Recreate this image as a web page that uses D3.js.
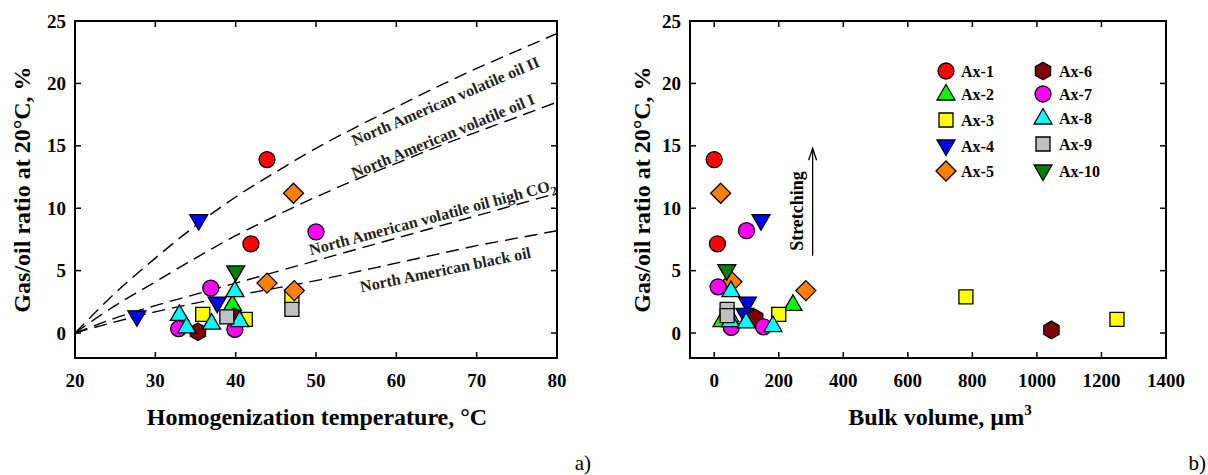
<!DOCTYPE html>
<html><head><meta charset="utf-8">
<script src="https://cdn.jsdelivr.net/npm/d3@7"></script>
<style>
body{margin:0;background:#fff}
svg{display:block}
text{font-family:"Liberation Serif","Times New Roman",serif;fill:#000}
</style>
</head><body>
<svg id="c" width="1208" height="475"></svg>
<script>
// ---------- data ----------
const seriesNames  = ["Ax-1","Ax-2","Ax-3","Ax-4","Ax-5","Ax-6","Ax-7","Ax-8","Ax-9","Ax-10"];
const seriesColors = ["#ff0000","#00ff00","#ffff00","#0000ff","#ff8000","#800000","#ff00ff","#00ffff","#c0c0c0","#008000"];
const seriesShapes = ["circle","triUp","square","triDown","diamond","hexagon","circle","triUp","square","triDown"];

// [series index, homogenization temperature °C, gas/oil ratio %]
const tempData = [
  [0,43.9,13.9],[0,41.9,7.15],
  [1,39.6,2.3],
  [2,35.9,1.5],[2,41.2,1.1],[2,47.0,2.9],
  [3,27.7,1.3],[3,35.4,9.0],[3,37.7,2.4],
  [4,47.2,11.2],[4,43.9,4.0],[4,47.3,3.4],
  [5,35.3,0.1],[5,39.8,1.3],
  [6,32.9,0.35],[6,36.9,3.6],[6,39.9,0.3],[6,50.0,8.1],
  [7,33.0,1.5],[7,33.9,0.5],[7,37.0,0.8],[7,39.9,3.4],[7,40.5,1.0],
  [8,38.9,1.3],[8,47.0,1.9],
  [9,40.0,4.9]
];
// [series index, bulk volume µm3, gas/oil ratio %]
const volumeData = [
  [0,0,13.9],[0,10,7.15],
  [1,24,1.0],[1,244,2.3],
  [2,200,1.5],[2,780,2.9],[2,1248,1.1],
  [3,145,9.0],[3,103,2.4],[3,95,1.5],
  [4,20,11.2],[4,55,4.1],[4,284,3.4],
  [5,127,1.2],[5,1045,0.25],
  [6,12,3.7],[6,100,8.2],[6,53,0.45],[6,153,0.5],
  [7,52,3.4],[7,48,1.4],[7,50,1.0],[7,99,0.9],[7,182,0.6],
  [8,40,1.9],[8,40,1.4],
  [9,39,5.0]
];

// reference curves (North American oils)
const curveT        = [20,25,30,35,40,45,50,55,60,65,70,75,80];
const curveVolII    = [0,3.2,6.0,8.6,10.9,12.9,14.8,16.5,18.1,19.7,21.2,22.6,24.0];
const curveVolI     = [0,2.2,4.1,6.0,7.8,9.4,10.9,12.3,13.6,14.9,16.1,17.3,18.5];
const curveHighCO2  = [0,1.2,2.2,3.1,4.0,4.9,5.8,6.7,7.6,8.5,9.4,10.3,11.2];
const curveBlackOil = [0,0.9,1.7,2.4,3.0,3.6,4.2,4.9,5.6,6.3,7.0,7.6,8.2];

const tempTicks   = [20,30,40,50,60,70,80];
const volumeTicks = [0,200,400,600,800,1000,1200,1400];
const gorTicks    = [0,5,10,15,20,25];

// ---------- layout ----------
const svg = d3.select("#c");
const L = {x0:75, x1:557, y0:358, y1:21};
const R = {x0:690, x1:1166, y0:358, y1:21};

const xT = d3.scaleLinear().domain([20,80]).range([L.x0,L.x1]);
const yL = d3.scaleLinear().domain([-2,25]).range([L.y0,L.y1]);
const xV = d3.scaleLinear().domain([-75,1400]).range([R.x0,R.x1]);
const yR = d3.scaleLinear().domain([-2,25]).range([R.y0,R.y1]);

function shapeD(shape){
  switch(shape){
    case "circle":  return "M8,0A8,8 0 1,1 -8,0A8,8 0 1,1 8,0Z";
    case "triUp":   return "M0,-9.5L9,6L-9,6Z";
    case "triDown": return "M0,9.5L9,-6L-9,-6Z";
    case "square":  return "M-7,-7L7,-7L7,7L-7,7Z";
    case "diamond": return "M0,-10L10,0L0,10L-10,0Z";
    case "hexagon": {
      const pts = d3.range(6).map(i=>{const a=Math.PI/3*i - Math.PI/2; return [8.8*Math.cos(a), 8.8*Math.sin(a)];});
      return "M"+pts.map(p=>p.join(",")).join("L")+"Z";
    }
  }
}

function frame(g, xs, ys, xTicks, yTicks){
  const [xa,xb] = xs.range(), [ya,yb] = ys.range();
  xTicks.forEach(t=>{
    const x = xs(t);
    g.append("line").attr("x1",x).attr("x2",x).attr("y1",ya).attr("y2",ya-6).attr("stroke","#000").attr("stroke-width",1.5);
    g.append("line").attr("x1",x).attr("x2",x).attr("y1",yb).attr("y2",yb+6).attr("stroke","#000").attr("stroke-width",1.5);
    g.append("text").attr("x",x).attr("y",ya+29).attr("text-anchor","middle")
      .style("font-weight","bold").style("font-size","19px").text(t);
  });
  yTicks.forEach(t=>{
    const y = ys(t);
    g.append("line").attr("x1",xa).attr("x2",xa+6).attr("y1",y).attr("y2",y).attr("stroke","#000").attr("stroke-width",1.5);
    g.append("line").attr("x1",xb).attr("x2",xb-6).attr("y1",y).attr("y2",y).attr("stroke","#000").attr("stroke-width",1.5);
    g.append("text").attr("x",xa-9).attr("y",y).attr("dy","0.35em").attr("text-anchor","end")
      .style("font-weight","bold").style("font-size","19px").text(t);
  });
  g.append("rect").attr("x",xa).attr("y",yb).attr("width",xb-xa).attr("height",ya-yb)
    .attr("fill","none").attr("stroke","#000").attr("stroke-width",2);
}

// ---------- left panel ----------
const gl = svg.append("g");
frame(gl, xT, yL, tempTicks, gorTicks);

const line = d3.line().x(d=>xT(d[0])).y(d=>yL(d[1])).curve(d3.curveMonotoneX);
const curves = [curveVolII, curveVolI, curveHighCO2, curveBlackOil];
curves.forEach(c=>{
  gl.append("path").attr("d", line(curveT.map((t,i)=>[t,c[i]])))
    .attr("fill","none").attr("stroke","#000").attr("stroke-width",1.4)
    .attr("stroke-dasharray","13,7");
});

const curveLabels = [
  {text:"North American volatile oil II", t:66.1, g:18.6, ang:-23.3},
  {text:"North American volatile oil I",  t:65.8, g:15.8, ang:-22.5},
  {text:"North American volatile oil high CO", sub:"2", t:64.5, g:9.3, ang:-15},
  {text:"North American black oil",       t:66.1, g:5.1, ang:-11.5}
];
curveLabels.forEach(lb=>{
  const x = xT(lb.t), y = yL(lb.g);
  const t = gl.append("text").attr("transform",`translate(${x},${y}) rotate(${lb.ang})`)
    .attr("text-anchor","middle").attr("dy","0.35em")
    .style("font-weight","bold").style("font-size","16px").style("fill","#222").text(lb.text);
  if(lb.sub) t.append("tspan").attr("dy","5").style("font-size","13px").text(lb.sub);
});

function drawPoints(g, data, xs, ys){
  data.forEach(d=>{
    g.append("path").attr("d", shapeD(seriesShapes[d[0]]))
      .attr("transform",`translate(${xs(d[1])},${ys(d[2])})`)
      .attr("fill",seriesColors[d[0]]).attr("stroke","#000").attr("stroke-width",1.3);
  });
}
drawPoints(gl, [...tempData].sort((a,b)=>a[0]-b[0]), xT, yL);

gl.append("text").attr("x",317).attr("y",425).attr("text-anchor","middle")
  .style("font-weight","bold").style("font-size","24px").text("Homogenization temperature, °C");
gl.append("text").attr("transform",`translate(30,${(L.y0+L.y1)/2}) rotate(-90)`).attr("text-anchor","middle")
  .style("font-weight","bold").style("font-size","24px").text("Gas/oil ratio at 20°C, %");
gl.append("text").attr("x",591).attr("y",470).attr("text-anchor","end").style("font-size","21px").text("a)");

// ---------- right panel ----------
const gr = svg.append("g");
frame(gr, xV, yR, volumeTicks, gorTicks);
drawPoints(gr, [...volumeData].sort((a,b)=>a[0]-b[0]), xV, yR);

// stretching arrow
const ax = xV(305), ay0 = yR(6.2), ay1 = yR(14.8);
gr.append("line").attr("x1",ax).attr("x2",ax).attr("y1",ay0).attr("y2",ay1).attr("stroke","#000").attr("stroke-width",1.3);
gr.append("path").attr("d",`M${ax-4},${ay1+12}L${ax},${ay1}L${ax+4},${ay1+12}`).attr("fill","none").attr("stroke","#000").attr("stroke-width",1.3);
gr.append("text").attr("transform",`translate(${ax-10},211) rotate(-90)`).attr("text-anchor","middle")
  .style("font-weight","bold").style("font-size","18px").text("Stretching");

// legend
const legendRows = [71,94,120,146,171];
const legendRows2 = [71,94,118,144,171];
seriesNames.forEach((n,i)=>{
  const col = i<5 ? 0 : 1, r = i%5;
  const sx = col===0 ? 946 : 1043, tx = col===0 ? 961 : 1059;
  const y = col===0 ? legendRows[r] : legendRows2[r];
  gr.append("path").attr("d",shapeD(seriesShapes[i])).attr("transform",`translate(${sx},${y})`)
    .attr("fill",seriesColors[i]).attr("stroke","#000").attr("stroke-width",1.3);
  gr.append("text").attr("x",tx).attr("y",y).attr("dy","0.35em")
    .style("font-weight","bold").style("font-size","16px").text(n);
});

const xl = gr.append("text").attr("x",940).attr("y",425).attr("text-anchor","middle")
  .style("font-weight","bold").style("font-size","24px").text("Bulk volume, µm");
xl.append("tspan").attr("dy","-10").style("font-size","15px").text("3");
gr.append("text").attr("transform",`translate(650,${(R.y0+R.y1)/2}) rotate(-90)`).attr("text-anchor","middle")
  .style("font-weight","bold").style("font-size","24px").text("Gas/oil ratio at 20°C, %");
gr.append("text").attr("x",1206).attr("y",470).attr("text-anchor","end").style("font-size","21px").text("b)");
</script>
</body></html>
